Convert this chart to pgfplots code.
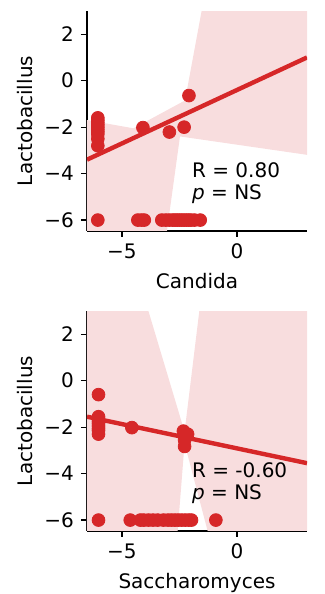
\documentclass[border=0pt]{standalone}
\usepackage{pgfplots}
\pgfplotsset{compat=1.18}
\usepackage{fontspec}
\setmainfont{DejaVu Sans}
\definecolor{tabred}{RGB}{214,39,40}
\definecolor{band}{RGB}{248,221,222}
\pgfplotsset{regstyle/.style={
  scale only axis, width=110pt, height=110pt,
  xmin=-6.52, xmax=3.04, ymin=-6.47, ymax=3.0,
  axis lines*=left, axis line style={-, line width=0.6pt},
  tick pos=left,
  tick align=outside, major tick length=3pt, tick style={black, line width=0.6pt},
  xtick={-5,0}, xticklabels={−5,0},
  ytick={-6,-4,-2,0,2}, yticklabels={−6,−4,−2,0,2},
  ticklabel style={font=\fontsize{10}{12}\selectfont},
  label style={font=\fontsize{10}{12}\selectfont},
  ylabel style={at={(axis description cs:-0.214,0.5)}, anchor=south},
  xlabel style={at={(axis description cs:0.5,-0.16)}, anchor=north},
  ylabel={Lactobacillus},
}}
\begin{document}
\begin{tikzpicture}
\useasboundingbox (-43.5pt,5.5pt) rectangle (119pt,-291.5pt);
\begin{axis}[regstyle, at={(0pt,0pt)}, anchor=north west, xlabel={Candida}]
\addplot[draw=none, fill=band] coordinates {(-6.6,-1.68) (-4.5,-2.05) (-2.26,-0.85) (-1.54,3.0) (-1.3,5) (3.1,5) (3.1,-3.2) (-2.48,-2.40) (-3.12,-7) (-6.6,-7)} -- cycle;
\addplot[only marks, mark=*, mark size=3.2pt, color=tabred] table {
x y
-6.05 -1.6
-6.05 -1.7
-6.05 -1.8
-6.05 -1.9
-6.05 -2.0
-6.05 -2.1
-6.05 -2.2
-6.05 -2.3
-6.05 -2.5
-6.05 -2.8
-6.05 -6
-4.09 -2.02
-2.94 -2.21
-2.30 -2.0
-2.09 -0.64
-4.31 -6
-4.15 -6
-4.03 -6
-3.27 -6
-3.10 -6
-2.95 -6
-2.80 -6
-2.70 -6
-2.60 -6
-2.50 -6
-2.40 -6
-2.30 -6
-2.20 -6
-2.10 -6
-2.00 -6
-1.85 -6
-1.60 -6
};
\addplot[color=tabred, line width=2.2pt] coordinates {(-6.52,-3.40) (3.04,1.0)};
\node[anchor=base west, inner sep=0pt, font=\fontsize{10}{12}\selectfont] at (axis cs:-1.97,-4.16) {R = 0.80};
\node[anchor=base west, inner sep=0pt, font=\fontsize{10}{12}\selectfont] at (axis cs:-1.97,-5.12) {\textit{p} = NS};
\end{axis}
\begin{axis}[regstyle, at={(0pt,-150pt)}, anchor=north west, xlabel={Saccharomyces}]
\addplot[draw=none, fill=band] coordinates {(-6.6,12.1) (-2.28,-2.2) (-1.0,8.2) (3.1,8.2) (3.1,-10) (-0.34,-10) (-2.28,-2.7) (-2.86,-10) (-6.6,-10)} -- cycle;
\addplot[only marks, mark=*, mark size=3.2pt, color=tabred] table {
x y
-6.02 -0.6
-6.02 -1.55
-6.02 -1.65
-6.02 -1.75
-6.02 -1.85
-6.02 -1.95
-6.02 -2.05
-6.02 -2.15
-6.02 -2.3
-6.02 -6
-4.57 -2.02
-2.33 -2.17
-2.15 -2.30
-2.20 -2.40
-2.28 -2.55
-2.28 -2.83
-4.64 -6
-4.20 -6
-4.05 -6
-3.85 -6
-3.65 -6
-3.45 -6
-3.20 -6
-3.00 -6
-2.85 -6
-2.70 -6
-2.55 -6
-2.40 -6
-2.25 -6
-2.10 -6
-1.98 -6
-0.92 -6
};
\addplot[color=tabred, line width=2.2pt] coordinates {(-6.52,-1.55) (3.04,-3.55)};
\node[anchor=base west, inner sep=0pt, font=\fontsize{10}{12}\selectfont] at (axis cs:-1.97,-4.16) {R = -0.60};
\node[anchor=base west, inner sep=0pt, font=\fontsize{10}{12}\selectfont] at (axis cs:-1.97,-5.12) {\textit{p} = NS};
\end{axis}
\end{tikzpicture}
\end{document}
